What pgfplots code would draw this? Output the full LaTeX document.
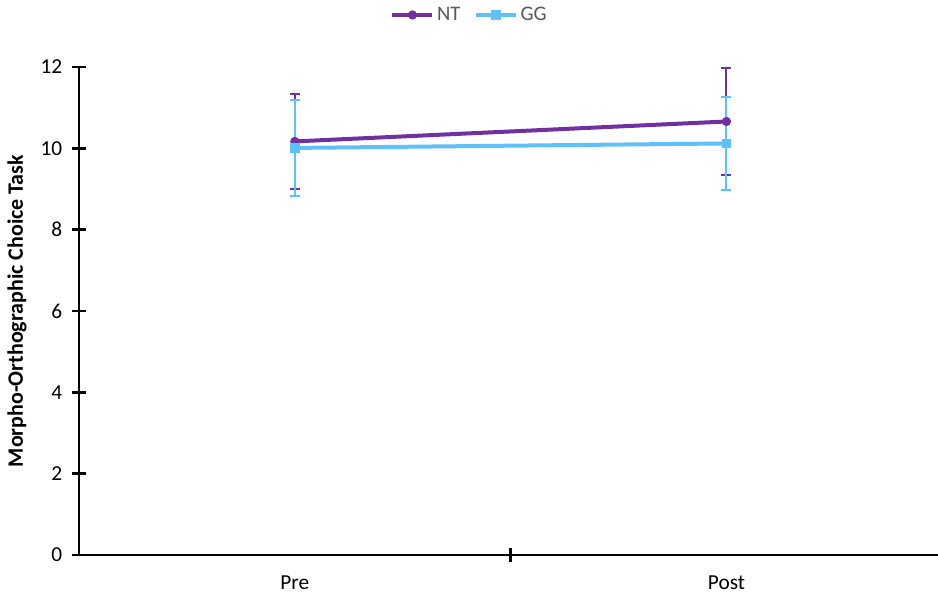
\documentclass[border=0pt]{standalone}
\usepackage{pgfplots}
\pgfplotsset{compat=1.18}
\usepackage{fontspec}
\setmainfont{Carlito}
\definecolor{ntc}{HTML}{7030A0}
\definecolor{ggc}{HTML}{5EC1F7}
\definecolor{txt}{HTML}{595959}
\begin{document}
\begin{tikzpicture}
\useasboundingbox (-59.25pt,-30.75pt) rectangle (644.25pt,416.25pt);
\begin{axis}[at={(0,0)}, anchor=south west, scale only axis,
  width=644.25pt, height=366pt,
  xmin=-0.5, xmax=1.49, ymin=0, ymax=12, ytick={0,2,...,12},
  axis x line=bottom, axis y line=left,
  axis line style={-, line width=1.9pt, black},
  tick align=center, major tick length=10pt,
  tick style={line width=1.9pt, black},
  xtick={0.5}, xticklabels={},
  extra x ticks={0,1}, extra x tick labels={Pre,Post},
  extra x tick style={major tick length=0pt, xticklabel style={yshift=-12pt}},
  ticklabel style={font=\fontsize{16}{18}\selectfont, text=black},
  yticklabel style={xshift=-4pt},
  /pgf/number format/assume math mode=true,
  ylabel={\textbf{Morpho-Orthographic Choice Task}},
  ylabel style={at={(axis description cs:-0.0722,0.5)}, anchor=center, font=\fontsize{16.5}{19}\selectfont},
  legend columns=2,
  legend style={draw=none, at={(axis description cs:0.455,1.1066)}, anchor=center,
    font=\fontsize{15.5}{18}\selectfont, text=txt,
    /tikz/every even column/.append style={column sep=8pt}},
  legend image code/.code={\draw[mark repeat=2,mark phase=2,#1] plot coordinates {(0pt,0pt) (15pt,0pt) (30pt,0pt)};},
]
\addplot[color=ntc, line width=3pt, mark=*, mark size=3.2pt, mark options={solid, line width=0.5pt},
  error bars/.cd, y dir=both, y explicit,
  error bar style={line width=1.5pt, ntc},
  error mark options={rotate=90, mark size=3.75pt, line width=1.5pt, ntc}]
  coordinates {(0,10.17) +- (0,1.17) (1,10.66) +- (0,1.31)};
\addlegendentry{NT}
\addplot[color=ggc, line width=3pt, mark=square*, mark size=3.2pt, mark options={solid, line width=0.5pt},
  error bars/.cd, y dir=both, y explicit,
  error bar style={line width=1.5pt, ggc},
  error mark options={rotate=90, mark size=3.75pt, line width=1.5pt, ggc}]
  coordinates {(0,10.01) +- (0,1.17) (1,10.12) +- (0,1.15)};
\addlegendentry{GG}
\end{axis}
\end{tikzpicture}
\end{document}
